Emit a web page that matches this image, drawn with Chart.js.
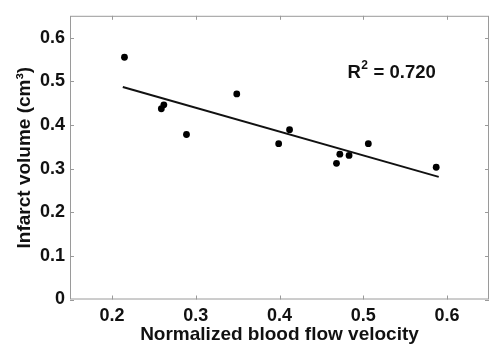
<!DOCTYPE html>
<html>
<head>
<meta charset="utf-8">
<script src="https://cdn.jsdelivr.net/npm/chart.js@4.4.0/dist/chart.umd.min.js"></script>
<style>
    html, body { margin: 0; padding: 0; background: #fff; overflow: hidden; }
    #wrap { position: relative; width: 493px; height: 347px; }
</style>
</head>
<body>
<div id="wrap"><canvas id="chart"></canvas></div>
<script>
const velocity = [0.215, 0.259, 0.262, 0.289, 0.349, 0.399, 0.412, 0.468, 0.472, 0.483, 0.506, 0.587];
const infarct  = [0.555, 0.437, 0.446, 0.378, 0.471, 0.357, 0.389, 0.312, 0.333, 0.330, 0.357, 0.303];

// Fitted regression line end points
const fitX = [0.213, 0.590];
const fitY = [0.487, 0.281];

const xTicks = [0.2, 0.3, 0.4, 0.5, 0.6];
const yTicks = [0, 0.1, 0.2, 0.3, 0.4, 0.5, 0.6];
const rSquared = '0.720';

const FONT = "'Liberation Sans', Arial, Helvetica, sans-serif";
const AXIS_GRAY = '#9a9a9a';

Chart.defaults.font.family = FONT;
Chart.defaults.font.weight = 'bold';
Chart.defaults.color = '#111';

// box round the plot with inward ticks, like the original
const framePlugin = {
    id: 'frame',
    beforeDatasetsDraw(chart) {
        const { ctx, chartArea: a, scales: { x, y } } = chart;
        ctx.save();
        ctx.strokeStyle = AXIS_GRAY;
        ctx.lineWidth = 1;
        ctx.strokeRect(a.left + 0.5, a.top + 0.5, a.right - a.left - 1, a.bottom - a.top - 1);
        ctx.beginPath();
        x.ticks.forEach(t => {
            const px = Math.round(x.getPixelForValue(t.value)) + 0.5;
            ctx.moveTo(px, a.bottom); ctx.lineTo(px, a.bottom - 4);
            ctx.moveTo(px, a.top); ctx.lineTo(px, a.top + 4);
        });
        y.ticks.forEach(t => {
            const py = Math.round(y.getPixelForValue(t.value)) + 0.5;
            ctx.moveTo(a.left, py); ctx.lineTo(a.left + 4, py);
            ctx.moveTo(a.right, py); ctx.lineTo(a.right - 4, py);
        });
        ctx.stroke();
        ctx.restore();
    },
    afterDatasetsDraw(chart) {
        const { ctx, scales: { x, y } } = chart;
        const px = x.getPixelForValue(0.481);
        const py = y.getPixelForValue(0.507);
        ctx.save();
        ctx.fillStyle = '#111';
        ctx.textBaseline = 'alphabetic';
        ctx.font = 'bold 18.5px ' + FONT;
        ctx.fillText('R', px, py);
        const rw = ctx.measureText('R').width;
        ctx.font = 'bold 12px ' + FONT;
        ctx.fillText('2', px + rw + 0.5, py - 9);
        const sw = ctx.measureText('2').width;
        ctx.font = 'bold 18.5px ' + FONT;
        ctx.fillText(' = ' + rSquared, px + rw + sw + 1, py);
        ctx.restore();
    }
};

new Chart(document.getElementById('chart'), {
    type: 'scatter',
    data: {
        datasets: [
            {
                label: 'fit',
                data: fitX.map((v, i) => ({ x: v, y: fitY[i] })),
                showLine: true,
                borderColor: '#111',
                borderWidth: 2,
                pointRadius: 0
            },
            {
                label: 'infarct',
                data: velocity.map((v, i) => ({ x: v, y: infarct[i] })),
                backgroundColor: '#000',
                borderColor: '#000',
                pointRadius: 3.4,
                borderWidth: 0
            }
        ]
    },
    options: {
        responsive: true,
        maintainAspectRatio: false,
        animation: false,
        layout: { padding: { top: 10, right: 0, left: 0, bottom: 0 } },
        plugins: {
            legend: { display: false },
            tooltip: { enabled: false }
        },
        scales: {
            x: {
                type: 'linear',
                min: 0.15,
                max: 0.65,
                afterBuildTicks: s => { s.ticks = xTicks.map(v => ({ value: v })); },
                afterFit: s => { s.height = 47.5; },
                grid: { display: false, drawTicks: false },
                border: { display: false },
                ticks: {
                    padding: 6,
                    font: { size: 18, weight: 'bold' },
                    color: '#111',
                    callback: v => v.toFixed(1)
                },
                title: {
                    display: true,
                    text: 'Normalized blood flow velocity',
                    font: { size: 19, weight: 'bold' },
                    color: '#111',
                    padding: { top: 0, bottom: 0.5 }
                }
            },
            y: {
                type: 'linear',
                min: 0,
                max: 0.65,
                afterBuildTicks: s => { s.ticks = yTicks.map(v => ({ value: v })); },
                afterFit: s => { s.width = 70; },
                grid: { display: false, drawTicks: false },
                border: { display: false },
                ticks: {
                    padding: 5,
                    font: { size: 18, weight: 'bold' },
                    color: '#111',
                    callback: v => (v === 0 ? '0' : v.toFixed(1))
                },
                title: {
                    display: true,
                    text: 'Infarct volume (cm³)',
                    font: { size: 19, weight: 'bold' },
                    color: '#111',
                    padding: { top: 13.5, bottom: 0 }
                }
            }
        }
    },
    plugins: [framePlugin]
});
</script>
</body>
</html>
